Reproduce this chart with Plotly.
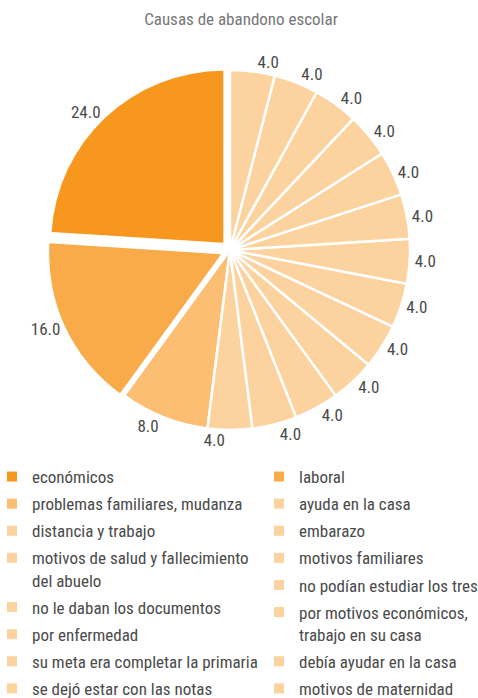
import plotly.graph_objects as go

# Causes of school dropout (percent of responses)
labels = [
    "económicos",
    "laboral",
    "problemas familiares, mudanza",
    "ayuda en la casa",
    "distancia y trabajo",
    "embarazo",
    "motivos de salud y fallecimiento<br>del abuelo",
    "motivos familiares",
    "no le daban los documentos",
    "no podían estudiar los tres",
    "por enfermedad",
    "por motivos económicos,<br>trabajo en su casa",
    "su meta era completar la primaria",
    "debía ayudar en la casa",
    "se dejó estar con las notas",
    "motivos de maternidad",
]
values = [24.0, 16.0, 8.0, 4.0, 4.0, 4.0, 4.0, 4.0, 4.0, 4.0, 4.0, 4.0, 4.0, 4.0, 4.0, 4.0]

C_ECON = "#F7971E"
C_LAB = "#F9AB4A"
C_PROB = "#FBBE72"
C_REST = "#FCD29E"
colors = [C_ECON, C_LAB, C_PROB] + [C_REST] * (len(values) - 3)

W, H = 478, 698
FONT = "Roboto Condensed, Roboto, sans-serif"
TXT = "#4a4a4a"

# pie geometry in pixels
cx, cy = 230, 250
r_full = 180      # small slices
r_big = 172       # the two pulled slices
pull_big = 0.057

def dom(cxp, cyp, half):
    return dict(x=[(cxp - half) / W, (cxp + half) / W],
                y=[1 - (cyp + half) / H, 1 - (cyp - half) / H])

n = len(values)
big = [0, 1]
transparent = "rgba(0,0,0,0)"
# first slice ends at 12 o'clock and the rest run counter-clockwise from it
rot = -360.0 * values[0] / sum(values)
label_font = dict(family=FONT, size=17, color=TXT)

pie_common = dict(labels=labels, values=values, sort=False,
                  direction="counterclockwise", rotation=rot,
                  showlegend=False, hoverinfo="skip")

fig = go.Figure()
# back layer: the two pulled slices
fig.add_trace(go.Pie(
    marker=dict(colors=[colors[i] if i in big else transparent for i in range(n)],
                line=dict(color="white", width=0)),
    pull=[pull_big if i in big else 0 for i in range(n)],
    text=[f"{values[i]:.1f}" if i in big else "" for i in range(n)],
    textinfo="text", textposition="outside", outsidetextfont=label_font,
    domain=dom(cx, cy, r_big * (1 + pull_big)),
    **pie_common,
))
# front layer: the remaining slices at full radius
fig.add_trace(go.Pie(
    marker=dict(colors=[transparent if i in big else colors[i] for i in range(n)],
                line=dict(color="white", width=[0 if i in big else 2.5 for i in range(n)])),
    textinfo="none",
    domain=dom(cx, cy, r_full),
    **pie_common,
))
# value labels of the full-radius slices, split over two transparent layers
# so neighbouring labels keep their natural positions
for parity in (0, 1):
    fig.add_trace(go.Pie(
        marker=dict(colors=[transparent] * n, line=dict(width=0)),
        text=[f"{values[i]:.1f}" if (i not in big and i % 2 == parity) else ""
              for i in range(n)],
        textinfo="text", textposition="outside", outsidetextfont=label_font,
        domain=dom(cx, cy, r_full),
        **pie_common,
    ))

# legend entries: two columns
for i in range(n):
    fig.add_trace(go.Scatter(
        x=[None], y=[None], mode="markers",
        marker=dict(symbol="square", size=10, color=colors[i]),
        name=labels[i], legendgroup=f"g{i}",
        legend="legend" if i % 2 == 0 else "legend2",
        hoverinfo="skip",
    ))

leg_common = dict(font=dict(family=FONT, size=17, color=TXT),
                  bgcolor="rgba(0,0,0,0)", tracegroupgap=2, valign="top",
                  yanchor="top", xanchor="left", itemclick=False)

fig.update_layout(
    width=W, height=H,
    margin=dict(l=0, r=0, t=0, b=0, autoexpand=False),
    paper_bgcolor="white", plot_bgcolor="white",
    xaxis=dict(visible=False), yaxis=dict(visible=False),
    title=dict(text="Causas de abandono escolar", x=241 / W, xanchor="center",
               y=1 - 19 / H, yanchor="middle",
               font=dict(family=FONT, size=17, color="#777777")),
    legend=dict(x=-8 / W, y=1 - 459 / H, **leg_common),
    legend2=dict(x=259 / W, y=1 - 459 / H, **leg_common),
)

fig.write_html("out.html")
